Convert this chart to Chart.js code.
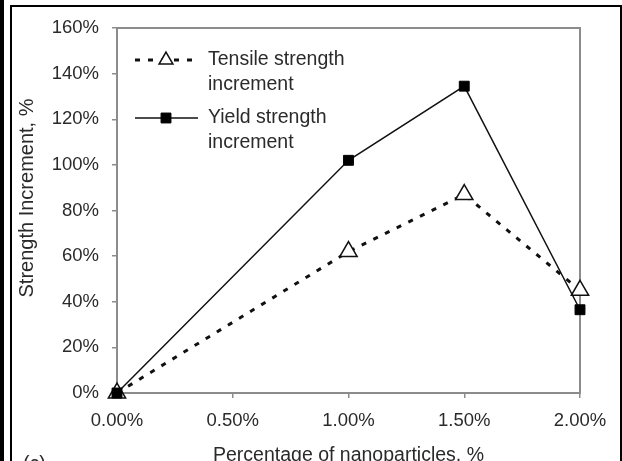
<!DOCTYPE html>
<html>
<head>
<meta charset="utf-8">
<script src="https://cdn.jsdelivr.net/npm/chart.js@4/dist/chart.umd.min.js"></script>
<style>
  html, body { margin: 0; padding: 0; background: #fff; overflow: hidden; }
  #bar { position: absolute; left: 0; top: 0; width: 4px; height: 475px; background: #000; }
  #frame { position: absolute; left: 10px; top: 5px; width: 608px; height: 480px;
           border: 2px solid #000; border-bottom: none; }
  #wrap { position: absolute; left: 0; top: 0; width: 622px; height: 475px; }
</style>
</head>
<body>
<div id="bar"></div>
<div id="frame"></div>
<div id="wrap"><canvas id="myChart" width="622" height="475"></canvas></div>
<script>
// nanoparticle content (%), x values
const loading = [0, 1.0, 1.5, 2.0];
// strength increments (%)
const tensileInc = [0, 62, 87, 45];
const yieldInc = [0, 102, 134.5, 36.5];
const xTicks = [0, 0.5, 1.0, 1.5, 2.0];
const yTicks = [0, 20, 40, 60, 80, 100, 120, 140, 160];

const axisGray = '#8c8c8c';
const textCol = '#2a2a2a';
const fontFam = '"Liberation Sans", Arial, sans-serif';

const toPts = vals => loading.map((x, i) => ({ x: x, y: vals[i] }));

// plot frame, legend and side labels
const extras = {
  id: 'extras',
  beforeDatasetsDraw(chart) {
    const { ctx, chartArea: a } = chart;
    ctx.save();
    ctx.strokeStyle = axisGray;
    ctx.lineWidth = 2;
    ctx.strokeRect(a.left, a.top, a.right - a.left, a.bottom - a.top);
    ctx.restore();
  },
  afterDatasetsDraw(chart) {
    const ctx = chart.ctx;
    const ds = chart.data.datasets;
    ctx.save();
    ctx.font = '19.5px ' + fontFam;
    ctx.fillStyle = textCol;
    ctx.textBaseline = 'middle';

    const rows = [
      { d: ds[0], y: 60, k: 0.8, lines: ['Tensile strength', 'increment'] },
      { d: ds[1], y: 118, k: 1, lines: ['Yield strength', 'increment'] }
    ];
    rows.forEach(r => {
      ctx.save();
      ctx.strokeStyle = r.d.borderColor;
      ctx.lineWidth = r.d.borderWidth;
      ctx.setLineDash(r.d.borderDash || []);
      ctx.beginPath();
      ctx.moveTo(135, r.y);
      ctx.lineTo(198, r.y);
      ctx.stroke();
      ctx.setLineDash([]);
      ctx.fillStyle = r.d.pointBackgroundColor;
      ctx.strokeStyle = r.d.pointBorderColor;
      ctx.lineWidth = r.d.pointBorderWidth;
      Chart.helpers.drawPoint(ctx, {
        pointStyle: r.d.pointStyle, radius: r.d.pointRadius * r.k,
        borderWidth: r.d.pointBorderWidth
      }, 166, r.y);
      ctx.restore();
      ctx.fillText(r.lines[0], 208, r.y);
      ctx.fillText(r.lines[1], 208, r.y + 25);
    });

    // y axis title
    ctx.save();
    ctx.font = '20px ' + fontFam;
    ctx.translate(27, 198);
    ctx.rotate(-Math.PI / 2);
    ctx.textAlign = 'center';
    ctx.fillText('Strength Increment, %', 0, 0);
    ctx.restore();

    // panel tag, cut by the bottom edge
    ctx.textBaseline = 'top';
    ctx.fillText('(c)', 23, 455);
    ctx.restore();
  }
};

const ctx = document.getElementById('myChart');
new Chart(ctx, {
  type: 'line',
  data: {
    datasets: [{
      label: 'Tensile strength increment',
      data: toPts(tensileInc),
      borderColor: '#111',
      borderWidth: 3,
      borderDash: [5, 8],
      pointStyle: 'triangle',
      pointRadius: 10,
      pointBackgroundColor: '#fff',
      pointBorderColor: '#111',
      pointBorderWidth: 1.5,
      clip: false,
      order: 2
    }, {
      label: 'Yield strength increment',
      data: toPts(yieldInc),
      borderColor: '#111',
      borderWidth: 1.5,
      pointStyle: 'rect',
      pointRadius: 7,
      pointBackgroundColor: '#000',
      pointBorderColor: '#000',
      pointBorderWidth: 1,
      clip: false,
      order: 1
    }]
  },
  options: {
    responsive: false,
    animation: false,
    layout: { padding: { left: 0, top: 28, right: 42, bottom: 0 } },
    plugins: { legend: { display: false }, tooltip: { enabled: false } },
    scales: {
      x: {
        type: 'linear',
        min: 0,
        max: 2,
        afterBuildTicks: s => { s.ticks = xTicks.map(v => ({ value: v })); },
        afterFit: s => { s.height = 82; },
        border: { display: false },
        grid: { drawOnChartArea: false, drawTicks: true, tickLength: 5, color: axisGray, lineWidth: 1.5 },
        ticks: {
          padding: 12,
          color: textCol,
          font: { family: fontFam, size: 18.5 },
          maxRotation: 0,
          callback: v => v.toFixed(2) + '%'
        },
        title: {
          display: true,
          text: 'Percentage of nanoparticles, %',
          color: textCol,
          font: { family: fontFam, size: 19.5 },
          padding: { top: 0, bottom: 8 }
        }
      },
      y: {
        min: 0,
        max: 160,
        afterBuildTicks: s => { s.ticks = yTicks.map(v => ({ value: v })); },
        afterFit: s => { s.width = 117; },
        border: { display: false },
        grid: { drawOnChartArea: false, drawTicks: true, tickLength: 5, color: axisGray, lineWidth: 1.5 },
        ticks: {
          padding: 13,
          color: textCol,
          font: { family: fontFam, size: 18.5 },
          callback: v => v + '%'
        }
      }
    }
  },
  plugins: [extras]
});
</script>
</body>
</html>
